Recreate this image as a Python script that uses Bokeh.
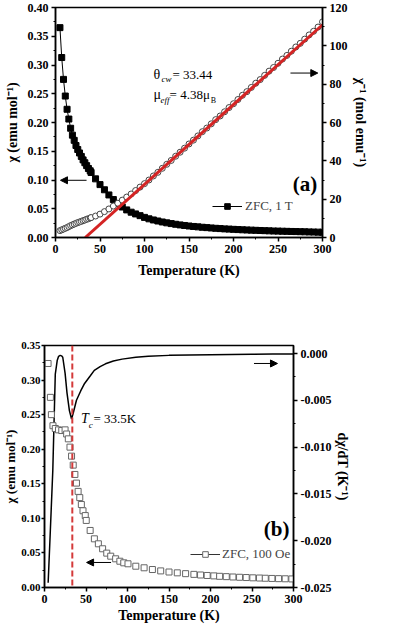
from bokeh.plotting import figure
from bokeh.models import (Range1d, LinearAxis, FixedTicker, PrintfTickFormatter, Label,
                          Arrow, NormalHead, Span, Legend, LegendItem)
from bokeh.embed import file_html
from bokeh.resources import INLINE

FONT = "Liberation Serif"

# ---------------- Panel (a) data ----------------
temp_a = [5, 7, 9, 11, 13, 15, 17, 19, 21, 23, 25, 27, 29, 31, 33, 35, 37, 39,
          40, 45, 50, 55, 60, 65, 70, 75, 80, 85, 90, 95, 100, 105, 110, 115, 120,
          125, 130, 135, 140, 145, 150, 155, 160, 165, 170, 175, 180, 185, 190, 195,
          200, 205, 210, 215, 220, 225, 230, 235, 240, 245, 250, 255, 260, 265, 270,
          275, 280, 285, 290, 295, 300]
chi_a = [0.365, 0.313, 0.275, 0.246, 0.223, 0.206, 0.190, 0.178, 0.169, 0.160, 0.153,
         0.147, 0.141, 0.135, 0.130, 0.125, 0.120, 0.116,
         0.113, 0.102, 0.092, 0.083, 0.074, 0.066, 0.059, 0.053, 0.048, 0.044, 0.041,
         0.038, 0.035, 0.0325, 0.0305, 0.0287, 0.0270, 0.0255, 0.0242, 0.0230, 0.0219,
         0.0209, 0.0200, 0.0192, 0.0185, 0.0178, 0.0172, 0.0166, 0.0160, 0.0155, 0.0150,
         0.0146, 0.0142, 0.0138, 0.0134, 0.0131, 0.0128, 0.0125, 0.0122, 0.0119, 0.0116,
         0.0113, 0.0111, 0.0109, 0.0107, 0.0105, 0.0103, 0.0101, 0.0099, 0.0097, 0.0095,
         0.0093, 0.0091]
inv_chi_a = [3.6, 4.0, 4.4, 4.8, 5.2, 5.7, 6.2, 6.6, 7.0, 7.4, 7.8, 8.1, 8.4, 8.8, 9.1,
             9.5, 9.8, 10.2,
             10.4, 11.2, 12.2, 13.5, 14.9, 16.4, 17.9, 19.5, 21.1, 22.7, 24.5, 26.3, 28.1,
             30.0, 32.1, 34.0, 36.1, 38.2, 40.2, 42.4, 44.5, 46.6, 48.8, 50.8, 53.0, 55.2,
             57.1, 59.3, 61.5, 63.4, 65.6, 67.8, 69.8, 72.0, 74.2, 76.1, 78.3, 80.5, 82.4,
             84.6, 86.8, 88.7, 90.9, 93.1, 95.0, 97.2, 99.4, 101.3, 103.5, 105.7, 107.6,
             109.8, 112.5]
fit_temp = [33.44, 300]
fit_inv = [0.0, 111.0]

# ---------------- Panel (b) data ----------------
temp_b = [4.3, 7.1, 8.3, 10.2, 13.0, 16.9, 20.8, 24.8, 26.7, 28.7, 30.7, 32.6, 34.6,
          36.6, 38.5, 40.5, 42.5, 44.4, 46.4, 49.1, 50.3, 55.0, 60.1, 64.9, 70.0, 75.0,
          79.8, 85.7, 90.8, 95.5, 100.6, 110, 120, 130, 140, 150, 160, 170, 180, 188,
          196, 204, 211, 219, 227, 235, 243, 251, 259, 266, 274, 282, 290, 298]
chi_b = [0.324, 0.275, 0.250, 0.234, 0.230, 0.228, 0.227, 0.228, 0.222, 0.215, 0.203,
         0.190, 0.177, 0.1635, 0.151, 0.139, 0.130, 0.120, 0.111, 0.104, 0.097, 0.0825,
         0.0704, 0.0632, 0.056, 0.0497, 0.0453, 0.0415, 0.038, 0.0357, 0.0343, 0.0308,
         0.0285, 0.0260, 0.0240, 0.0224, 0.0212, 0.0200, 0.0190, 0.0181, 0.0174, 0.0168,
         0.0162, 0.0157, 0.0152, 0.0148, 0.0144, 0.0140, 0.0137, 0.0134, 0.0131, 0.0128,
         0.0126, 0.0124]
temp_d = [4.4, 7.0, 10.0, 13.0, 15.3, 17.0, 18.9, 20.5, 22.0, 24.8, 27.1, 30.0, 32.6,
          34.8, 38.5, 43.6, 48.3, 55.0, 60.0, 67.0, 73.5, 83.0, 93.5, 110, 125, 150,
          175, 200, 225, 250, 275, 300]
dchi_dt = [-0.0245, -0.0190, -0.0125, -0.0022, -0.00075, -0.0003, -0.0002, -0.00025,
           -0.0004, -0.0021, -0.0042, -0.0061, -0.0070, -0.0063, -0.0050, -0.0040,
           -0.0032, -0.0024, -0.0018, -0.0014, -0.0011, -0.0008, -0.0006, -0.0004,
           -0.0003, -0.0002, -0.00015, -0.00012, -0.0001, -0.00008, -0.00006, -0.00005]
tc_value = 33.5

# ticks
x_ticks = [0, 50, 100, 150, 200, 250, 300]
x_minor = [25, 75, 125, 175, 225, 275]
ya_ticks = [0.0, 0.05, 0.10, 0.15, 0.20, 0.25, 0.30, 0.35, 0.40]
ya_minor = [0.025, 0.075, 0.125, 0.175, 0.225, 0.275, 0.325, 0.375]
yinv_ticks = [0, 20, 40, 60, 80, 100, 120]
yinv_minor = [10, 30, 50, 70, 90, 110]
yb_ticks = [0.0, 0.05, 0.10, 0.15, 0.20, 0.25, 0.30, 0.35]
yb_minor = [0.025, 0.075, 0.125, 0.175, 0.225, 0.275, 0.325]
yd_ticks = [-0.025, -0.020, -0.015, -0.010, -0.005, 0.0]
yd_minor = [-0.0225, -0.0175, -0.0125, -0.0075, -0.0025]


def style_axis(ax, ticks, minor, fmt, label_standoff=3, axis_standoff=4,
               tick_size="12px", label_size="14px", tick_out=4):
    ax.ticker = FixedTicker(ticks=ticks, minor_ticks=minor)
    ax.formatter = PrintfTickFormatter(format=fmt)
    ax.axis_line_width = 1.5
    ax.axis_line_color = "black"
    ax.major_tick_line_width = 1.5
    ax.major_tick_line_color = "black"
    ax.minor_tick_line_color = "black"
    ax.minor_tick_line_width = 1
    ax.major_tick_out = tick_out
    ax.major_tick_in = 0
    ax.minor_tick_out = 2
    ax.minor_tick_in = 0
    ax.major_label_text_font = FONT
    ax.major_label_text_font_size = tick_size
    ax.major_label_text_font_style = "bold"
    ax.major_label_text_color = "black"
    ax.major_label_standoff = label_standoff
    ax.axis_label_text_font = FONT
    ax.axis_label_text_font_size = label_size
    ax.axis_label_text_font_style = "bold"
    ax.axis_label_text_color = "black"
    ax.axis_label_standoff = axis_standoff


def base_style(p):
    p.xgrid.visible = False
    p.ygrid.visible = False
    p.outline_line_color = "black"
    p.outline_line_width = 1.5
    p.background_fill_color = "white"
    p.border_fill_color = "white"


def add_text(p, x, y, text, size="13px", style="normal", align="left"):
    p.add_layout(Label(x=x, y=y, text=text, text_font=FONT, text_font_size=size,
                       text_font_style=style, text_color="black", text_align=align,
                       text_baseline="middle"))


# ================= Panel (a) =================
p1 = figure(width=393, height=300, x_range=Range1d(0, 300), y_range=Range1d(0, 0.40),
            output_backend="svg", toolbar_location=None,
            min_border_left=55, min_border_right=71, min_border_top=7, min_border_bottom=63)
base_style(p1)
p1.extra_y_ranges = {"inv": Range1d(0, 120)}
style_axis(p1.xaxis[0], x_ticks, x_minor, "%d", axis_standoff=7)
p1.xaxis[0].axis_label = "Temperature (K)"
style_axis(p1.yaxis[0], ya_ticks, ya_minor, "%.2f", axis_standoff=5)
p1.yaxis[0].axis_label = "χ (emu mol⁻¹)"
ax_r = LinearAxis(y_range_name="inv", axis_label="χ⁻¹ (mol emu⁻¹)")
style_axis(ax_r, yinv_ticks, yinv_minor, "%d", axis_standoff=2)
p1.add_layout(ax_r, "right")

line_a = p1.line(temp_a, chi_a, line_color="black", line_width=1)
sq_a = p1.scatter(temp_a, chi_a, marker="square", size=6, fill_color="black",
                  line_color="black")
p1.scatter(temp_a, inv_chi_a, y_range_name="inv", marker="circle", size=6,
           fill_color="white", line_color="#444444", line_width=1)
p1.line(fit_temp, fit_inv, y_range_name="inv", line_color="#d42424", line_width=3)

leg_a = Legend(items=[LegendItem(label="ZFC, 1 T", renderers=[line_a, sq_a])],
               location=(157, 23), glyph_width=30, glyph_height=14, padding=0, margin=0,
               label_standoff=3, label_text_font=FONT, label_text_font_size="13px",
               border_line_alpha=0, background_fill_alpha=0)
p1.add_layout(leg_a)

add_text(p1, 110.2, 0.2837, "θ", size="14px")
add_text(p1, 119.2, 0.2752, "cw", size="9px", style="italic")
add_text(p1, 131.5, 0.2837, "= 33.44", size="13px")
add_text(p1, 110.2, 0.2479, "μ", size="14px")
add_text(p1, 118.1, 0.2393, "eff", size="9px", style="italic")
add_text(p1, 128.2, 0.2479, "= 4.38μ", size="13px")
add_text(p1, 174.3, 0.2376, "B", size="8px")
add_text(p1, 266.6, 0.0926, "(a)", size="21px", style="bold")

p1.add_layout(Arrow(end=NormalHead(size=7, fill_color="black", line_color="black"),
                    x_start=34.9, y_start=0.0995, x_end=5.6, y_end=0.0995,
                    line_color="black", line_width=1))
p1.add_layout(Arrow(end=NormalHead(size=7, fill_color="black", line_color="black"),
                    x_start=264, y_start=0.286, x_end=294.7, y_end=0.286,
                    line_color="black", line_width=1))

# ================= Panel (b) =================
p2 = figure(width=393, height=325, x_range=Range1d(0, 300), y_range=Range1d(0, 0.35),
            output_backend="svg", toolbar_location=None,
            min_border_left=39, min_border_right=100, min_border_top=45, min_border_bottom=38)
base_style(p2)
p2.extra_y_ranges = {"d": Range1d(-0.025, 0.000855)}
style_axis(p2.xaxis[0], x_ticks, x_minor, "%d", axis_standoff=2)
p2.xaxis[0].axis_label = "Temperature (K)"
style_axis(p2.yaxis[0], yb_ticks, yb_minor, "%.2f", label_standoff=1, axis_standoff=0,
           tick_size="11px", label_size="13px", tick_out=3)
p2.yaxis[0].axis_label = "χ (emu mol⁻¹)"
ax_d = LinearAxis(y_range_name="d", axis_label="dχ/dT (K⁻¹)")
style_axis(ax_d, yd_ticks, yd_minor, "%.3f", axis_standoff=1)
p2.add_layout(ax_d, "right")

p2.add_layout(Span(location=tc_value, dimension="height", line_color="#d43a3a",
                   line_width=2, line_dash="6 3"))
p2.line(temp_d, dchi_dt, y_range_name="d", line_color="black", line_width=1.5)
sq_b = p2.scatter(temp_b, chi_b, marker="square", size=6, fill_color="white",
                  line_color="#666666", line_width=1)
line_b = p2.line(temp_b[:1], chi_b[:1], line_color="#333333", line_width=1)

leg_b = Legend(items=[LegendItem(label="ZFC, 100 Oe", renderers=[line_b, sq_b])],
               location=(146, 25), glyph_width=30, glyph_height=14, padding=0, margin=0,
               label_standoff=2, label_text_font=FONT, label_text_font_size="13px",
               border_line_alpha=0, background_fill_alpha=0)
p2.add_layout(leg_b)

add_text(p2, 44.0, 0.2444, "T", size="14px", style="italic")
add_text(p2, 53.2, 0.2357, "c", size="9px", style="italic")
add_text(p2, 59.0, 0.2444, "= 33.5K", size="13px")
add_text(p2, 264.2, 0.0839, "(b)", size="21px", style="bold")

p2.add_layout(Arrow(end=NormalHead(size=7, fill_color="black", line_color="black"),
                    x_start=252.4, y_start=0.324, x_end=280.7, y_end=0.324,
                    line_color="black", line_width=1))
p2.add_layout(Arrow(end=NormalHead(size=7, fill_color="black", line_color="black"),
                    x_start=80.2, y_start=0.0362, x_end=50.7, y_end=0.0362,
                    line_color="black", line_width=1))

open("out.html", "w").write(file_html([p1, p2], INLINE))
